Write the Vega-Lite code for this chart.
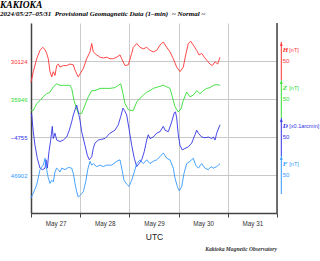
{
"$schema": "https://vega.github.io/schema/vega-lite/v6.json",
"width": 246, "height": 190,
"autosize": {"type": "none"},
"padding": {"left": 31, "top": 23, "right": 43, "bottom": 48},
"background": "white",
"config": {"view": {"stroke": null}, "font": "Liberation Sans"},
"title": {"text": "KAKIOKA", "subtitle": "2024/05/27\u201305/31 \u00a0Provisional Geomagnetic Data (1\u2013min) \u00a0~ Normal ~", "anchor": "start", "frame": "group", "dx": -31, "offset": 5, "font": "Liberation Serif", "fontSize": 9.5, "fontStyle": "italic", "fontWeight": "bold", "color": "#000", "subtitleFont": "Liberation Serif", "subtitleFontSize": 7, "subtitleFontStyle": "italic", "subtitleFontWeight": "bold", "subtitleColor": "#000", "subtitlePadding": 1},
"datasets": {
"H": [
{"t":"2024-05-27T00:00Z","v":30096},{"t":"2024-05-27T01:07Z","v":30110},{"t":"2024-05-27T02:47Z","v":30127},{"t":"2024-05-27T04:23Z","v":30138},{"t":"2024-05-27T05:42Z","v":30142},{"t":"2024-05-27T06:50Z","v":30139},{"t":"2024-05-27T07:39Z","v":30134},{"t":"2024-05-27T08:26Z","v":30127},{"t":"2024-05-27T09:16Z","v":30110},{"t":"2024-05-27T10:06Z","v":30103},{"t":"2024-05-27T10:53Z","v":30110},{"t":"2024-05-27T11:42Z","v":30105},{"t":"2024-05-27T12:32Z","v":30118},{"t":"2024-05-27T13:19Z","v":30120},{"t":"2024-05-27T14:09Z","v":30116},{"t":"2024-05-27T15:45Z","v":30118},{"t":"2024-05-27T17:25Z","v":30118},{"t":"2024-05-27T19:01Z","v":30120},{"t":"2024-05-27T20:38Z","v":30119},{"t":"2024-05-27T21:28Z","v":30112},{"t":"2024-05-27T23:04Z","v":30103},{"t":"2024-05-27T23:54Z","v":30107},
{"t":"2024-05-28T01:31Z","v":30114},{"t":"2024-05-28T03:10Z","v":30127},{"t":"2024-05-28T04:47Z","v":30136},{"t":"2024-05-28T05:37Z","v":30147},{"t":"2024-05-28T06:23Z","v":30136},{"t":"2024-05-28T08:03Z","v":30132},{"t":"2024-05-28T09:40Z","v":30129},{"t":"2024-05-28T11:16Z","v":30128},{"t":"2024-05-28T12:56Z","v":30129},{"t":"2024-05-28T14:32Z","v":30127},{"t":"2024-05-28T16:09Z","v":30127},{"t":"2024-05-28T17:48Z","v":30129},{"t":"2024-05-28T19:25Z","v":30132},{"t":"2024-05-28T20:14Z","v":30127},{"t":"2024-05-28T21:51Z","v":30118},{"t":"2024-05-28T23:28Z","v":30119},
{"t":"2024-05-29T01:07Z","v":30134},{"t":"2024-05-29T01:54Z","v":30142},{"t":"2024-05-29T03:34Z","v":30147},{"t":"2024-05-29T05:10Z","v":30142},{"t":"2024-05-29T06:47Z","v":30140},{"t":"2024-05-29T08:26Z","v":30142},{"t":"2024-05-29T10:03Z","v":30138},{"t":"2024-05-29T11:40Z","v":30136},{"t":"2024-05-29T13:19Z","v":30138},{"t":"2024-05-29T14:56Z","v":30145},{"t":"2024-05-29T16:32Z","v":30149},{"t":"2024-05-29T18:12Z","v":30142},{"t":"2024-05-29T19:48Z","v":30136},{"t":"2024-05-29T21:25Z","v":30127},{"t":"2024-05-29T23:04Z","v":30116},
{"t":"2024-05-30T00:41Z","v":30110},{"t":"2024-05-30T02:17Z","v":30116},{"t":"2024-05-30T03:28Z","v":30132},{"t":"2024-05-30T04:44Z","v":30147},{"t":"2024-05-30T05:54Z","v":30150},{"t":"2024-05-30T07:10Z","v":30145},{"t":"2024-05-30T08:50Z","v":30138},{"t":"2024-05-30T09:57Z","v":30132},{"t":"2024-05-30T11:16Z","v":30134},{"t":"2024-05-30T12:32Z","v":30129},{"t":"2024-05-30T13:43Z","v":30125},{"t":"2024-05-30T15:19Z","v":30120},{"t":"2024-05-30T16:26Z","v":30118},{"t":"2024-05-30T17:46Z","v":30123},{"t":"2024-05-30T19:04Z","v":30120},{"t":"2024-05-30T20:12Z","v":30129}
],
"Z": [
{"t":"2024-05-27T00:00Z","v":35931},{"t":"2024-05-27T01:07Z","v":35931},{"t":"2024-05-27T02:47Z","v":35940},{"t":"2024-05-27T04:23Z","v":35944},{"t":"2024-05-27T06:00Z","v":35949},{"t":"2024-05-27T07:39Z","v":35953},{"t":"2024-05-27T09:16Z","v":35955},{"t":"2024-05-27T10:53Z","v":35962},{"t":"2024-05-27T12:32Z","v":35966},{"t":"2024-05-27T14:09Z","v":35964},{"t":"2024-05-27T15:45Z","v":35964},{"t":"2024-05-27T17:25Z","v":35964},{"t":"2024-05-27T19:01Z","v":35964},{"t":"2024-05-27T19:51Z","v":35960},{"t":"2024-05-27T20:59Z","v":35944},{"t":"2024-05-27T22:17Z","v":35933},{"t":"2024-05-27T23:04Z","v":35927},
{"t":"2024-05-28T00:44Z","v":35927},{"t":"2024-05-28T02:20Z","v":35938},{"t":"2024-05-28T03:57Z","v":35949},{"t":"2024-05-28T05:37Z","v":35957},{"t":"2024-05-28T07:13Z","v":35957},{"t":"2024-05-28T09:40Z","v":35960},{"t":"2024-05-28T12:06Z","v":35960},{"t":"2024-05-28T14:32Z","v":35960},{"t":"2024-05-28T16:59Z","v":35961},{"t":"2024-05-28T18:35Z","v":35964},{"t":"2024-05-28T19:46Z","v":35966},{"t":"2024-05-28T20:44Z","v":35955},{"t":"2024-05-28T21:51Z","v":35940},{"t":"2024-05-28T23:28Z","v":35932},
{"t":"2024-05-29T00:47Z","v":35931},{"t":"2024-05-29T01:54Z","v":35931},{"t":"2024-05-29T03:34Z","v":35942},{"t":"2024-05-29T05:10Z","v":35947},{"t":"2024-05-29T06:47Z","v":35951},{"t":"2024-05-29T08:26Z","v":35955},{"t":"2024-05-29T10:03Z","v":35957},{"t":"2024-05-29T11:40Z","v":35960},{"t":"2024-05-29T14:06Z","v":35962},{"t":"2024-05-29T16:32Z","v":35964},{"t":"2024-05-29T18:12Z","v":35962},{"t":"2024-05-29T19:48Z","v":35960},{"t":"2024-05-29T20:56Z","v":35949},{"t":"2024-05-29T22:14Z","v":35936},{"t":"2024-05-29T23:51Z","v":35929},
{"t":"2024-05-30T01:10Z","v":35933},{"t":"2024-05-30T02:17Z","v":35944},{"t":"2024-05-30T03:57Z","v":35955},{"t":"2024-05-30T05:34Z","v":35949},{"t":"2024-05-30T07:10Z","v":35951},{"t":"2024-05-30T08:50Z","v":35957},{"t":"2024-05-30T10:26Z","v":35953},{"t":"2024-05-30T12:03Z","v":35957},{"t":"2024-05-30T13:43Z","v":35960},{"t":"2024-05-30T15:19Z","v":35961},{"t":"2024-05-30T16:56Z","v":35964},{"t":"2024-05-30T18:35Z","v":35965},{"t":"2024-05-30T20:12Z","v":35964}
],
"D": [
{"t":"2024-05-27T00:00Z","v":-4724},{"t":"2024-05-27T00:20Z","v":-4726},{"t":"2024-05-27T01:07Z","v":-4748},{"t":"2024-05-27T01:57Z","v":-4766},{"t":"2024-05-27T03:04Z","v":-4783},{"t":"2024-05-27T04:23Z","v":-4796},{"t":"2024-05-27T05:42Z","v":-4798},{"t":"2024-05-27T06:50Z","v":-4796},{"t":"2024-05-27T07:19Z","v":-4785},{"t":"2024-05-27T07:57Z","v":-4796},{"t":"2024-05-27T08:47Z","v":-4774},{"t":"2024-05-27T09:37Z","v":-4759},{"t":"2024-05-27T10:23Z","v":-4741},{"t":"2024-05-27T10:53Z","v":-4757},{"t":"2024-05-27T11:42Z","v":-4750},{"t":"2024-05-27T12:32Z","v":-4759},{"t":"2024-05-27T14:09Z","v":-4761},{"t":"2024-05-27T15:45Z","v":-4759},{"t":"2024-05-27T17:25Z","v":-4755},{"t":"2024-05-27T18:41Z","v":-4746},{"t":"2024-05-27T19:51Z","v":-4735},{"t":"2024-05-27T20:38Z","v":-4726},{"t":"2024-05-27T22:17Z","v":-4713},{"t":"2024-05-27T23:04Z","v":-4722},{"t":"2024-05-27T23:54Z","v":-4733},
{"t":"2024-05-28T00:44Z","v":-4748},{"t":"2024-05-28T02:20Z","v":-4766},{"t":"2024-05-28T03:28Z","v":-4779},{"t":"2024-05-28T04:26Z","v":-4785},{"t":"2024-05-28T05:37Z","v":-4781},{"t":"2024-05-28T06:23Z","v":-4770},{"t":"2024-05-28T07:13Z","v":-4763},{"t":"2024-05-28T08:50Z","v":-4759},{"t":"2024-05-28T10:29Z","v":-4758},{"t":"2024-05-28T12:06Z","v":-4757},{"t":"2024-05-28T14:32Z","v":-4750},{"t":"2024-05-28T16:59Z","v":-4746},{"t":"2024-05-28T18:35Z","v":-4739},{"t":"2024-05-28T19:46Z","v":-4728},{"t":"2024-05-28T20:53Z","v":-4717},{"t":"2024-05-28T21:37Z","v":-4720},{"t":"2024-05-28T22:41Z","v":-4726},{"t":"2024-05-28T23:48Z","v":-4744},
{"t":"2024-05-29T01:07Z","v":-4766},{"t":"2024-05-29T02:23Z","v":-4783},{"t":"2024-05-29T03:34Z","v":-4794},{"t":"2024-05-29T04:41Z","v":-4790},{"t":"2024-05-29T06:00Z","v":-4785},{"t":"2024-05-29T07:16Z","v":-4774},{"t":"2024-05-29T08:26Z","v":-4759},{"t":"2024-05-29T09:13Z","v":-4752},{"t":"2024-05-29T10:03Z","v":-4757},{"t":"2024-05-29T11:40Z","v":-4755},{"t":"2024-05-29T13:19Z","v":-4750},{"t":"2024-05-29T14:56Z","v":-4748},{"t":"2024-05-29T16:32Z","v":-4741},{"t":"2024-05-29T17:22Z","v":-4746},{"t":"2024-05-29T18:59Z","v":-4748},{"t":"2024-05-29T20:38Z","v":-4735},{"t":"2024-05-29T21:54Z","v":-4723},{"t":"2024-05-29T22:29Z","v":-4722},{"t":"2024-05-29T23:04Z","v":-4730},{"t":"2024-05-29T23:51Z","v":-4752},
{"t":"2024-05-30T00:41Z","v":-4766},{"t":"2024-05-30T01:48Z","v":-4772},{"t":"2024-05-30T03:07Z","v":-4770},{"t":"2024-05-30T04:44Z","v":-4768},{"t":"2024-05-30T06:23Z","v":-4763},{"t":"2024-05-30T08:00Z","v":-4752},{"t":"2024-05-30T08:50Z","v":-4746},{"t":"2024-05-30T09:37Z","v":-4750},{"t":"2024-05-30T11:16Z","v":-4755},{"t":"2024-05-30T12:53Z","v":-4756},{"t":"2024-05-30T14:29Z","v":-4755},{"t":"2024-05-30T16:09Z","v":-4757},{"t":"2024-05-30T16:56Z","v":-4755},{"t":"2024-05-30T17:46Z","v":-4759},{"t":"2024-05-30T18:35Z","v":-4750},{"t":"2024-05-30T20:12Z","v":-4739}
],
"F": [
{"t":"2024-05-27T00:00Z","v":46872},{"t":"2024-05-27T01:07Z","v":46878},{"t":"2024-05-27T02:47Z","v":46889},{"t":"2024-05-27T04:23Z","v":46909},{"t":"2024-05-27T05:13Z","v":46913},{"t":"2024-05-27T06:00Z","v":46915},{"t":"2024-05-27T06:50Z","v":46924},{"t":"2024-05-27T07:39Z","v":46909},{"t":"2024-05-27T08:26Z","v":46898},{"t":"2024-05-27T09:16Z","v":46891},{"t":"2024-05-27T10:06Z","v":46895},{"t":"2024-05-27T10:53Z","v":46893},{"t":"2024-05-27T11:42Z","v":46906},{"t":"2024-05-27T12:32Z","v":46911},{"t":"2024-05-27T13:19Z","v":46909},{"t":"2024-05-27T14:09Z","v":46906},{"t":"2024-05-27T14:59Z","v":46911},{"t":"2024-05-27T16:35Z","v":46909},{"t":"2024-05-27T18:12Z","v":46912},{"t":"2024-05-27T19:51Z","v":46911},{"t":"2024-05-27T20:38Z","v":46904},{"t":"2024-05-27T21:28Z","v":46891},{"t":"2024-05-27T22:17Z","v":46880},{"t":"2024-05-27T23:04Z","v":46873},
{"t":"2024-05-28T00:15Z","v":46876},{"t":"2024-05-28T01:31Z","v":46880},{"t":"2024-05-28T02:41Z","v":46893},{"t":"2024-05-28T03:40Z","v":46909},{"t":"2024-05-28T04:47Z","v":46920},{"t":"2024-05-28T05:37Z","v":46915},{"t":"2024-05-28T06:23Z","v":46917},{"t":"2024-05-28T08:03Z","v":46913},{"t":"2024-05-28T09:40Z","v":46915},{"t":"2024-05-28T11:16Z","v":46913},{"t":"2024-05-28T12:56Z","v":46915},{"t":"2024-05-28T15:22Z","v":46915},{"t":"2024-05-28T17:48Z","v":46920},{"t":"2024-05-28T19:25Z","v":46922},{"t":"2024-05-28T20:14Z","v":46911},{"t":"2024-05-28T21:22Z","v":46895},{"t":"2024-05-28T22:41Z","v":46890},{"t":"2024-05-28T23:48Z","v":46887},
{"t":"2024-05-29T01:07Z","v":46895},{"t":"2024-05-29T02:23Z","v":46906},{"t":"2024-05-29T03:34Z","v":46917},{"t":"2024-05-29T05:10Z","v":46922},{"t":"2024-05-29T06:47Z","v":46917},{"t":"2024-05-29T08:26Z","v":46922},{"t":"2024-05-29T10:03Z","v":46917},{"t":"2024-05-29T11:40Z","v":46920},{"t":"2024-05-29T13:19Z","v":46922},{"t":"2024-05-29T14:56Z","v":46926},{"t":"2024-05-29T16:32Z","v":46931},{"t":"2024-05-29T18:12Z","v":46924},{"t":"2024-05-29T19:48Z","v":46922},{"t":"2024-05-29T21:25Z","v":46911},{"t":"2024-05-29T22:14Z","v":46898},{"t":"2024-05-29T23:22Z","v":46887},
{"t":"2024-05-30T00:20Z","v":46881},{"t":"2024-05-30T01:31Z","v":46887},{"t":"2024-05-30T02:38Z","v":46904},{"t":"2024-05-30T03:57Z","v":46917},{"t":"2024-05-30T05:34Z","v":46920},{"t":"2024-05-30T07:10Z","v":46924},{"t":"2024-05-30T08:20Z","v":46915},{"t":"2024-05-30T09:37Z","v":46911},{"t":"2024-05-30T11:16Z","v":46917},{"t":"2024-05-30T12:53Z","v":46911},{"t":"2024-05-30T14:29Z","v":46909},{"t":"2024-05-30T15:48Z","v":46913},{"t":"2024-05-30T16:56Z","v":46911},{"t":"2024-05-30T18:35Z","v":46913},{"t":"2024-05-30T20:12Z","v":46917}
]
},
"layer": [
{"data": {"values": [{}]}, "mark": {"type": "rule", "color": "#444", "strokeWidth": 1.5},
 "encoding": {"x": {"datum": {"year":2024,"month":6,"date":1,"utc":true}, "type": "temporal",
   "scale": {"type": "utc", "domain": [{"year":2024,"month":5,"date":27,"utc":true},{"year":2024,"month":6,"date":1,"utc":true}]},
   "axis": {"values": [{"year":2024,"month":5,"date":27,"utc":true},{"year":2024,"month":5,"date":28,"utc":true},{"year":2024,"month":5,"date":29,"utc":true},{"year":2024,"month":5,"date":30,"utc":true},{"year":2024,"month":5,"date":31,"utc":true},{"year":2024,"month":6,"date":1,"utc":true}],
    "labelExpr": "utcdate(datum.value) == 1 ? '' : utcFormat(datum.value, '%b %d')", "labelOffset": 24.6, "labelFlush": false, "labelOverlap": false, "labelBound": false,
    "labelFont": "Liberation Sans", "labelFontSize": 6.3, "labelColor": "#333", "labelPadding": 3,
    "tickSize": 4, "tickColor": "#444", "domainColor": "#444", "domainWidth": 1.5,
    "grid": true, "gridColor": "#cccccc", "gridWidth": 1,
    "title": "UTC", "titleFont": "Liberation Sans", "titleFontSize": 8.5, "titleFontWeight": "normal", "titleColor": "#222222", "titlePadding": 6}}}},
{"layer": [
{"data": {"name": "H"}, "mark": {"type": "line", "stroke": "#ff3333", "strokeWidth": 0.9},
 "encoding": {
  "x": {"field": "t", "type": "temporal"},
  "y": {"field": "v", "type": "quantitative", "scale": {"domain": [29924, 30174], "nice": false, "zero": false},
   "axis": {"orient": "left", "values": [30124], "format": "d", "title": null, "ticks": false, "domain": true, "domainColor": "#444", "domainWidth": 1.5, "grid": true, "gridColor": "#c8c8c8", "labelColor": "#ff3333", "labelFont": "Liberation Sans", "labelFontSize": 6, "labelPadding": 4}}
 }},
{"data": {"values": [{}]}, "mark": {"type": "rule", "stroke": "#ff3333", "strokeWidth": 1},
 "encoding": {"x": {"datum": {"year":2024,"month":6,"date":1,"hours":2,"minutes":6,"utc":true}}, "y": {"datum": 30099}, "y2": {"datum": 30149}}},
{"data": {"values": [{}]}, "mark": {"type": "point", "shape": "triangle-up", "filled": true, "opacity": 1, "size": 10, "fill": "#ff3333", "strokeWidth": 0},
 "encoding": {"x": {"datum": {"year":2024,"month":6,"date":1,"hours":2,"minutes":6,"utc":true}}, "y": {"datum": 30146}}},
{"data": {"values": [{}]}, "mark": {"type": "text", "text": "H", "font": "Liberation Serif", "fontStyle": "italic", "fontWeight": "bold", "fontSize": 7, "fill": "#ff3333", "align": "left", "baseline": "middle"},
 "encoding": {"x": {"datum": {"year":2024,"month":6,"date":1,"hours":2,"minutes":45,"utc":true}}, "y": {"datum": 30139}}},
{"data": {"values": [{}]}, "mark": {"type": "text", "text": "[nT]", "font": "Liberation Sans", "fontSize": 5.5, "fill": "#ff3333", "align": "left", "baseline": "middle"},
 "encoding": {"x": {"datum": {"year":2024,"month":6,"date":1,"hours":6,"minutes":0,"utc":true}}, "y": {"datum": 30139}}},
{"data": {"values": [{}]}, "mark": {"type": "text", "text": "50", "font": "Liberation Sans", "fontSize": 6, "fill": "#ff3333", "align": "left", "baseline": "middle"},
 "encoding": {"x": {"datum": {"year":2024,"month":6,"date":1,"hours":2,"minutes":45,"utc":true}}, "y": {"datum": 30124}}}
]},
{"layer": [
{"data": {"name": "Z"}, "mark": {"type": "line", "stroke": "#33dd33", "strokeWidth": 0.9},
 "encoding": {
  "x": {"field": "t", "type": "temporal"},
  "y": {"field": "v", "type": "quantitative", "scale": {"domain": [35796, 36046], "nice": false, "zero": false},
   "axis": {"orient": "left", "values": [35946], "format": "d", "title": null, "ticks": false, "domain": false, "grid": true, "gridColor": "#c8c8c8", "labelColor": "#33dd33", "labelFont": "Liberation Sans", "labelFontSize": 6, "labelPadding": 4}}
 }},
{"data": {"values": [{}]}, "mark": {"type": "rule", "stroke": "#33dd33", "strokeWidth": 1},
 "encoding": {"x": {"datum": {"year":2024,"month":6,"date":1,"hours":2,"minutes":6,"utc":true}}, "y": {"datum": 35921}, "y2": {"datum": 35971}}},
{"data": {"values": [{}]}, "mark": {"type": "point", "shape": "triangle-up", "filled": true, "opacity": 1, "size": 10, "fill": "#33dd33", "strokeWidth": 0},
 "encoding": {"x": {"datum": {"year":2024,"month":6,"date":1,"hours":2,"minutes":6,"utc":true}}, "y": {"datum": 35968}}},
{"data": {"values": [{}]}, "mark": {"type": "text", "text": "Z", "font": "Liberation Serif", "fontStyle": "italic", "fontWeight": "bold", "fontSize": 7, "fill": "#33dd33", "align": "left", "baseline": "middle"},
 "encoding": {"x": {"datum": {"year":2024,"month":6,"date":1,"hours":2,"minutes":45,"utc":true}}, "y": {"datum": 35960}}},
{"data": {"values": [{}]}, "mark": {"type": "text", "text": "[nT]", "font": "Liberation Sans", "fontSize": 5.5, "fill": "#33dd33", "align": "left", "baseline": "middle"},
 "encoding": {"x": {"datum": {"year":2024,"month":6,"date":1,"hours":6,"minutes":0,"utc":true}}, "y": {"datum": 35960}}},
{"data": {"values": [{}]}, "mark": {"type": "text", "text": "50", "font": "Liberation Sans", "fontSize": 6, "fill": "#33dd33", "align": "left", "baseline": "middle"},
 "encoding": {"x": {"datum": {"year":2024,"month":6,"date":1,"hours":2,"minutes":45,"utc":true}}, "y": {"datum": 35946}}}
]},
{"layer": [
{"data": {"name": "D"}, "mark": {"type": "line", "stroke": "#3333e6", "strokeWidth": 0.9},
 "encoding": {
  "x": {"field": "t", "type": "temporal"},
  "y": {"field": "v", "type": "quantitative", "scale": {"domain": [-4855, -4605], "nice": false, "zero": false},
   "axis": {"orient": "left", "values": [-4755], "format": "d", "title": null, "ticks": false, "domain": false, "grid": true, "gridColor": "#c8c8c8", "labelColor": "#3333e6", "labelFont": "Liberation Sans", "labelFontSize": 6, "labelPadding": 4}}
 }},
{"data": {"values": [{}]}, "mark": {"type": "rule", "stroke": "#3333e6", "strokeWidth": 1},
 "encoding": {"x": {"datum": {"year":2024,"month":6,"date":1,"hours":2,"minutes":6,"utc":true}}, "y": {"datum": -4780}, "y2": {"datum": -4730}}},
{"data": {"values": [{}]}, "mark": {"type": "point", "shape": "triangle-up", "filled": true, "opacity": 1, "size": 10, "fill": "#3333e6", "strokeWidth": 0},
 "encoding": {"x": {"datum": {"year":2024,"month":6,"date":1,"hours":2,"minutes":6,"utc":true}}, "y": {"datum": -4733}}},
{"data": {"values": [{}]}, "mark": {"type": "text", "text": "D", "font": "Liberation Serif", "fontStyle": "italic", "fontWeight": "bold", "fontSize": 7, "fill": "#3333e6", "align": "left", "baseline": "middle"},
 "encoding": {"x": {"datum": {"year":2024,"month":6,"date":1,"hours":2,"minutes":45,"utc":true}}, "y": {"datum": -4741}}},
{"data": {"values": [{}]}, "mark": {"type": "text", "text": "[x0.1arcmin]", "font": "Liberation Sans", "fontSize": 5.5, "fill": "#3333e6", "align": "left", "baseline": "middle"},
 "encoding": {"x": {"datum": {"year":2024,"month":6,"date":1,"hours":6,"minutes":0,"utc":true}}, "y": {"datum": -4741}}},
{"data": {"values": [{}]}, "mark": {"type": "text", "text": "50", "font": "Liberation Sans", "fontSize": 6, "fill": "#3333e6", "align": "left", "baseline": "middle"},
 "encoding": {"x": {"datum": {"year":2024,"month":6,"date":1,"hours":2,"minutes":45,"utc":true}}, "y": {"datum": -4755}}}
]},
{"layer": [
{"data": {"name": "F"}, "mark": {"type": "line", "stroke": "#3399ff", "strokeWidth": 0.9},
 "encoding": {
  "x": {"field": "t", "type": "temporal"},
  "y": {"field": "v", "type": "quantitative", "scale": {"domain": [46852, 47102], "nice": false, "zero": false},
   "axis": {"orient": "left", "values": [46902], "format": "d", "title": null, "ticks": false, "domain": false, "grid": true, "gridColor": "#c8c8c8", "labelColor": "#3399ff", "labelFont": "Liberation Sans", "labelFontSize": 6, "labelPadding": 4}}
 }},
{"data": {"values": [{}]}, "mark": {"type": "rule", "stroke": "#3399ff", "strokeWidth": 1},
 "encoding": {"x": {"datum": {"year":2024,"month":6,"date":1,"hours":2,"minutes":6,"utc":true}}, "y": {"datum": 46877}, "y2": {"datum": 46927}}},
{"data": {"values": [{}]}, "mark": {"type": "point", "shape": "triangle-up", "filled": true, "opacity": 1, "size": 10, "fill": "#3399ff", "strokeWidth": 0},
 "encoding": {"x": {"datum": {"year":2024,"month":6,"date":1,"hours":2,"minutes":6,"utc":true}}, "y": {"datum": 46924}}},
{"data": {"values": [{}]}, "mark": {"type": "text", "text": "F", "font": "Liberation Serif", "fontStyle": "italic", "fontWeight": "bold", "fontSize": 7, "fill": "#3399ff", "align": "left", "baseline": "middle"},
 "encoding": {"x": {"datum": {"year":2024,"month":6,"date":1,"hours":2,"minutes":45,"utc":true}}, "y": {"datum": 46916}}},
{"data": {"values": [{}]}, "mark": {"type": "text", "text": "[nT]", "font": "Liberation Sans", "fontSize": 5.5, "fill": "#3399ff", "align": "left", "baseline": "middle"},
 "encoding": {"x": {"datum": {"year":2024,"month":6,"date":1,"hours":6,"minutes":0,"utc":true}}, "y": {"datum": 46916}}},
{"data": {"values": [{}]}, "mark": {"type": "text", "text": "50", "font": "Liberation Sans", "fontSize": 6, "fill": "#3399ff", "align": "left", "baseline": "middle"},
 "encoding": {"x": {"datum": {"year":2024,"month":6,"date":1,"hours":2,"minutes":45,"utc":true}}, "y": {"datum": 46902}}},
{"data": {"values": [{}]}, "mark": {"type": "text", "text": "Kakioka Magnetic Observatory", "font": "Liberation Serif", "fontStyle": "italic", "fontWeight": "bold", "fontSize": 5.6, "fill": "#333333", "align": "right", "baseline": "middle"},
 "encoding": {"x": {"datum": {"year":2024,"month":6,"date":1,"utc":true}}, "y": {"datum": 46805}}}
]}
],
"resolve": {"scale": {"y": "independent"}}
}
